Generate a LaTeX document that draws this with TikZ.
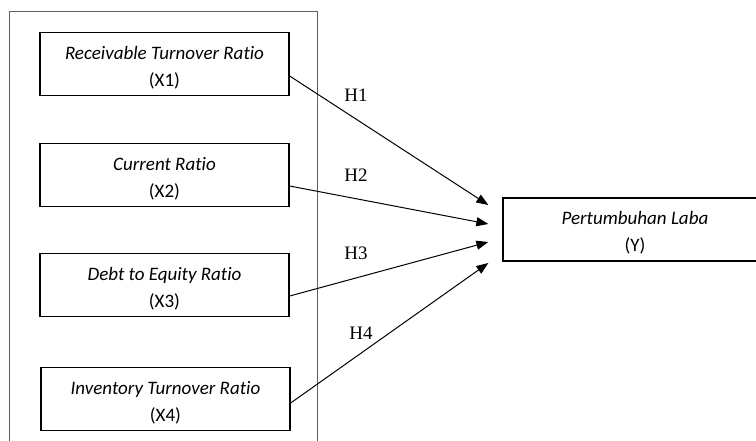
\documentclass[tikz,border=0pt]{standalone}
\usepackage{fontspec}
\setmainfont[Ligatures=NoCommon]{Carlito}
\newfontfamily\timesf{Liberation Serif}
\usetikzlibrary{arrows.meta,calc}
\newcommand{\topstrut}{\rule{0pt}{20pt}}
\tikzset{
  varbox/.style={draw=black, line width=1.3pt, minimum width=249pt, minimum height=63pt, align=center, inner sep=0pt,
    font=\fontsize{19}{27}\selectfont},
  hyp/.style={font=\timesf\fontsize{19}{20}\selectfont, inner sep=0pt},
  link/.style={draw=black, line width=1pt, -{Triangle[length=12pt,width=9pt]}},
}
\begin{document}
\begin{tikzpicture}[x=1pt,y=-1pt]
\useasboundingbox (0,0) rectangle (756,440);
\clip (0,0) rectangle (756,440);
\fill[white] (0,0) rectangle (756,440);
\draw[gray!75!black, line width=1pt] (9,445) -- (9,11) -- (317,11) -- (317,445);
\node[varbox] (b1) at (164.5,64) {\topstrut\textit{Receivable Turnover Ratio}\\(X1)};
\node[varbox] (b2) at (164.5,175) {\topstrut\textit{Current Ratio}\\(X2)};
\node[varbox] (b3) at (164.5,285) {\topstrut\textit{Debt to Equity Ratio}\\(X3)};
\node[varbox] (b4) at (165.5,399) {\topstrut\textit{Inventory Turnover Ratio}\\(X4)};
\node[varbox, minimum width=264pt] (y) at (635,229.5) {\topstrut\textit{Pertumbuhan Laba}\\(Y)};
\coordinate (t1) at ([xshift=-14pt,yshift=24.5pt]y.west);
\coordinate (t2) at ([xshift=-14pt,yshift=5.5pt]y.west);
\coordinate (t3) at ([xshift=-14pt,yshift=-12.5pt]y.west);
\coordinate (t4) at ([xshift=-14pt,yshift=-33.5pt]y.west);
\draw[link] ([yshift=-12pt]b1.east) -- (t1);
\draw[link] ([yshift=-11pt]b2.east) -- (t2);
\draw[link] ([yshift=-11pt]b3.east) -- (t3);
\draw[link] ([yshift=-4pt]b4.east) -- (t4);
\node[hyp] (h1) at (356,95) {H1};
\node[hyp] (h2) at (356,175) {H2};
\node[hyp] (h3) at (356,253) {H3};
\node[hyp] (h4) at (361,333) {H4};
\end{tikzpicture}
\end{document}
